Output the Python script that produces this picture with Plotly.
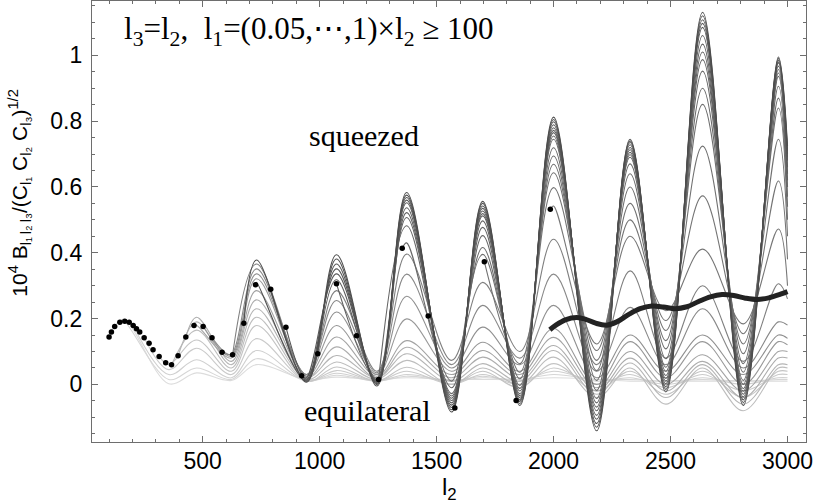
import plotly.graph_objects as go

# l2 grid at the peaks / troughs of the curve family
l2_grid = [100, 160, 355, 474, 623, 730, 944, 1072, 1245, 1372, 1564,
           1697, 1856, 2000, 2184, 2327, 2480, 2637, 2811, 2961, 3000]

# start points of the curves (black dots)
dot_l = [100, 110, 124, 146, 167, 186, 203, 217, 231, 250, 271, 288, 314, 342,
         367, 395, 428, 463, 502, 540, 583, 628, 676, 726, 791, 856, 923, 992,
         1072, 1158, 1252, 1353, 1464, 1578, 1704, 1840, 1986]
dot_v = [0.144, 0.159, 0.176, 0.189, 0.192, 0.189, 0.179, 0.169, 0.159, 0.142,
         0.125, 0.105, 0.085, 0.066, 0.060, 0.087, 0.144, 0.179, 0.176, 0.142,
         0.098, 0.090, 0.186, 0.303, 0.289, 0.174, 0.026, 0.093, 0.306, 0.148,
         0.015, 0.414, 0.208, -0.072, 0.373, -0.049, 0.532]

N = None
# one row per curve, values on l2_grid (None before the curve starts)
curve_start = [22, 23, 24, 25, 26, 27, 28, 29, 30, 31, 32, 33, 34, 35, 36,
               21, 20, 19, 18, 17, 16, 15, 14, 12, 9, 6, 3, 0]
curve_vals = [
    [N, N, N, N, N, 0.378, 0.007, 0.394, -0.005, 0.583, -0.084, 0.556, -0.064, 0.812, -0.141, 0.745, -0.023, 1.131, -0.064, 0.995, 0.724],
    [N, N, N, N, N, 0.310, 0.010, 0.381, 0.000, 0.575, -0.077, 0.550, -0.058, 0.805, -0.130, 0.740, -0.015, 1.120, -0.055, 0.990, 0.710],
    [N, N, N, N, N, N, 0.013, 0.366, 0.003, 0.568, -0.070, 0.542, -0.052, 0.798, -0.119, 0.735, -0.007, 1.108, -0.047, 0.985, 0.700],
    [N, N, N, N, N, N, 0.016, 0.351, 0.006, 0.560, -0.063, 0.535, -0.046, 0.789, -0.106, 0.728, 0.002, 1.097, -0.038, 0.980, 0.690],
    [N, N, N, N, N, N, 0.020, 0.336, 0.009, 0.552, -0.056, 0.527, -0.040, 0.780, -0.094, 0.720, 0.010, 1.085, -0.030, 0.977, 0.680],
    [N, N, N, N, N, N, N, 0.318, 0.012, 0.537, -0.049, 0.519, -0.034, 0.772, -0.080, 0.713, 0.018, 1.060, -0.021, 0.967, 0.660],
    [N, N, N, N, N, N, N, N, 0.015, 0.522, -0.042, 0.512, -0.028, 0.765, -0.069, 0.705, 0.027, 1.034, -0.013, 0.957, 0.640],
    [N, N, N, N, N, N, N, N, 0.018, 0.507, -0.035, 0.497, -0.020, 0.755, -0.056, 0.698, 0.040, 1.010, 0.000, 0.946, 0.620],
    [N, N, N, N, N, N, N, N, N, 0.482, -0.028, 0.477, -0.012, 0.745, -0.043, 0.690, 0.052, 0.987, 0.012, 0.936, 0.600],
    [N, N, N, N, N, N, N, N, N, 0.430, -0.010, 0.452, -0.003, 0.719, -0.018, 0.670, 0.078, 0.952, 0.037, 0.906, 0.570],
    [N, N, N, N, N, N, N, N, N, N, 0.010, 0.416, 0.017, 0.694, 0.012, 0.640, 0.108, 0.900, 0.063, 0.870, 0.540],
    [N, N, N, N, N, N, N, N, N, N, N, 0.395, 0.037, 0.669, 0.042, 0.600, 0.133, 0.851, 0.093, 0.840, 0.500],
    [N, N, N, N, N, N, N, N, N, N, N, N, 0.063, 0.643, 0.073, 0.550, 0.164, 0.724, 0.123, 0.745, 0.450],
    [N, N, N, N, N, N, N, N, N, N, N, N, -0.050, 0.598, 0.103, 0.500, 0.194, 0.573, 0.154, 0.618, 0.380],
    [N, N, N, N, N, N, N, N, N, N, N, N, N, 0.542, 0.123, 0.450, 0.224, 0.411, 0.184, 0.472, 0.300],
    [N, N, N, N, N, 0.366, 0.025, 0.285, 0.040, 0.396, 0.073, 0.310, 0.100, 0.441, 0.060, 0.345, 0.080, 0.300, 0.070, 0.306, 0.260],
    [N, N, N, N, 0.092, 0.351, 0.030, 0.255, 0.035, 0.335, 0.060, 0.240, 0.080, 0.335, 0.040, 0.234, 0.060, 0.230, 0.050, 0.190, 0.180],
    [N, N, N, N, 0.090, 0.336, 0.030, 0.220, 0.030, 0.268, 0.050, 0.174, 0.060, 0.240, 0.020, 0.150, 0.040, 0.150, 0.030, 0.150, 0.140],
    [N, N, N, N, 0.085, 0.321, 0.030, 0.179, 0.030, 0.199, 0.040, 0.128, 0.040, 0.170, 0.000, 0.130, 0.020, 0.130, 0.000, 0.130, 0.120],
    [N, N, N, 0.180, 0.080, 0.285, 0.025, 0.144, 0.025, 0.133, 0.030, 0.103, 0.030, 0.143, -0.010, 0.100, 0.000, 0.090, -0.020, 0.100, 0.100],
    [N, N, N, 0.204, 0.070, 0.257, 0.020, 0.114, 0.020, 0.113, 0.020, 0.083, 0.020, 0.118, -0.020, 0.080, -0.020, 0.070, -0.040, 0.080, 0.080],
    [N, N, N, 0.190, 0.060, 0.230, 0.020, 0.088, 0.020, 0.093, 0.010, 0.063, 0.010, 0.103, -0.030, 0.065, -0.040, 0.060, -0.060, 0.060, 0.060],
    [N, N, N, 0.165, 0.050, 0.204, 0.015, 0.068, 0.015, 0.073, 0.000, 0.050, 0.000, 0.083, -0.040, 0.050, -0.060, 0.050, -0.080, 0.050, 0.050],
    [N, N, 0.060, 0.135, 0.040, 0.179, 0.010, 0.053, 0.010, 0.052, 0.000, 0.040, -0.010, 0.063, -0.020, 0.040, -0.030, 0.040, -0.040, 0.040, 0.040],
    [N, N, 0.045, 0.110, 0.030, 0.139, 0.010, 0.042, 0.010, 0.040, 0.000, 0.030, 0.000, 0.050, 0.000, 0.030, -0.010, 0.030, -0.020, 0.030, 0.030],
    [N, N, 0.030, 0.075, 0.020, 0.103, 0.010, 0.034, 0.010, 0.030, 0.010, 0.025, 0.010, 0.040, 0.010, 0.020, 0.000, 0.020, 0.000, 0.020, 0.020],
    [N, 0.195, 0.015, 0.050, 0.015, 0.078, 0.010, 0.028, 0.010, 0.025, 0.010, 0.020, 0.015, 0.030, 0.015, 0.015, 0.010, 0.015, 0.010, 0.015, 0.015],
    [N, 0.198, 0.002, 0.035, 0.012, 0.060, 0.015, 0.022, 0.015, 0.020, 0.015, 0.015, 0.015, 0.020, 0.015, 0.010, 0.010, 0.010, 0.010, 0.010, 0.010],
]

# thick black curve
thick_l = [1984, 2010, 2050, 2100, 2140, 2180, 2226, 2270, 2320, 2370, 2420, 2470,
           2520, 2570, 2620, 2670, 2720, 2770, 2820, 2870, 2920, 2970, 3000]
thick_v = [0.166, 0.180, 0.196, 0.203, 0.197, 0.186, 0.180, 0.190, 0.212, 0.230, 0.238, 0.235,
           0.230, 0.236, 0.252, 0.266, 0.273, 0.270, 0.262, 0.258, 0.263, 0.274, 0.282]

curve_colors = ['#4d4d4d', '#505050', '#535353', '#565656', '#595959', '#5c5c5c', '#5f5f5f',
                '#626262', '#656565', '#686868', '#6b6b6b', '#6e6e6e', '#717171', '#747474',
                '#777777', '#7f7f7f', '#888888', '#909090', '#989898', '#a3a3a3', '#adadad',
                '#b5b5b5', '#bdbdbd', '#c4c4c4', '#cacaca', '#d0d0d0', '#d6d6d6', '#dcdcdc']

fig = go.Figure()

# light curves first so the dark ones sit on top
for k in reversed(range(len(curve_vals))):
    s = curve_start[k]
    xs = [dot_l[s]] + [l for l, v in zip(l2_grid, curve_vals[k]) if v is not None]
    ys = [dot_v[s]] + [v for v in curve_vals[k] if v is not None]
    fig.add_trace(go.Scatter(x=xs, y=ys, mode='lines',
                             line=dict(color=curve_colors[k], width=1.1, shape='spline'),
                             showlegend=False, hoverinfo='skip'))

fig.add_trace(go.Scatter(x=thick_l, y=thick_v, mode='lines',
                         line=dict(color='#222222', width=5, shape='spline'),
                         showlegend=False))
fig.add_trace(go.Scatter(x=dot_l, y=dot_v, mode='markers',
                         marker=dict(color='black', size=5.5),
                         showlegend=False))

axis_style = dict(showline=True, linecolor='#6e6e6e', linewidth=1.3, mirror='ticks',
                  ticks='inside', ticklen=6, tickcolor='#6e6e6e', tickwidth=1,
                  showgrid=False, zeroline=False,
                  tickfont=dict(family='Liberation Sans, Arial, sans-serif', size=23, color='black'))

fig.update_layout(
    width=818, height=504,
    margin=dict(l=92, r=12, t=1, b=62),
    plot_bgcolor='white', paper_bgcolor='white',
    xaxis=dict(range=[27, 3079], tick0=0, dtick=500, ticklabelstandoff=-2,
               minor=dict(dtick=100, ticks='inside', ticklen=3, tickcolor='#6e6e6e'),
               **axis_style),
    yaxis=dict(range=[-0.175, 1.165], tick0=0, dtick=0.2, ticklabelstandoff=4,
               minor=dict(dtick=0.05, ticks='inside', ticklen=3, tickcolor='#6e6e6e'),
               **axis_style),
)

serif = dict(family='Liberation Serif, Times New Roman, serif', size=30, color='black')

fig.add_annotation(x=154, y=1.075, xref='x', yref='y', xanchor='left', yanchor='middle',
                   showarrow=False,
                   text='l<sub>3</sub>=l<sub>2</sub>,  l<sub>1</sub>=(0.05,\u22ef,1)\u00d7l<sub>2</sub> \u2265 100',
                   font=dict(family='Liberation Serif, Times New Roman, serif', size=31, color='black'))
fig.add_annotation(x=1189, y=0.756, xref='x', yref='y', xanchor='center', yanchor='middle',
                   showarrow=False, text='squeezed', font=serif)
fig.add_annotation(x=1206, y=-0.079, xref='x', yref='y', xanchor='center', yanchor='middle',
                   showarrow=False, text='equilateral', font=serif)
fig.add_annotation(x=-0.101, y=0.565, xref='paper', yref='paper', xanchor='center', yanchor='middle',
                   showarrow=False, textangle=-90,
                   text='10<sup>4</sup> B<sub>l\u2081\u2009l\u2082\u2009l\u2083</sub>/(C<sub>l\u2081</sub> C<sub>l\u2082</sub> C<sub>l\u2083</sub>)<sup>1/2</sup>',
                   font=dict(family='Liberation Sans, Arial, sans-serif', size=21, color='black'))
fig.add_annotation(x=0.5, y=-0.105, xref='paper', yref='paper', xanchor='center', yanchor='middle',
                   showarrow=False, text='l<sub>2</sub>',
                   font=dict(family='Liberation Sans, Arial, sans-serif', size=24, color='black'))

# page body has an 8px default margin; drop it so the figure sits at the window corner
fig.write_html("out.html", config={'displayModeBar': False},
               post_script="document.body.style.margin='0';")
